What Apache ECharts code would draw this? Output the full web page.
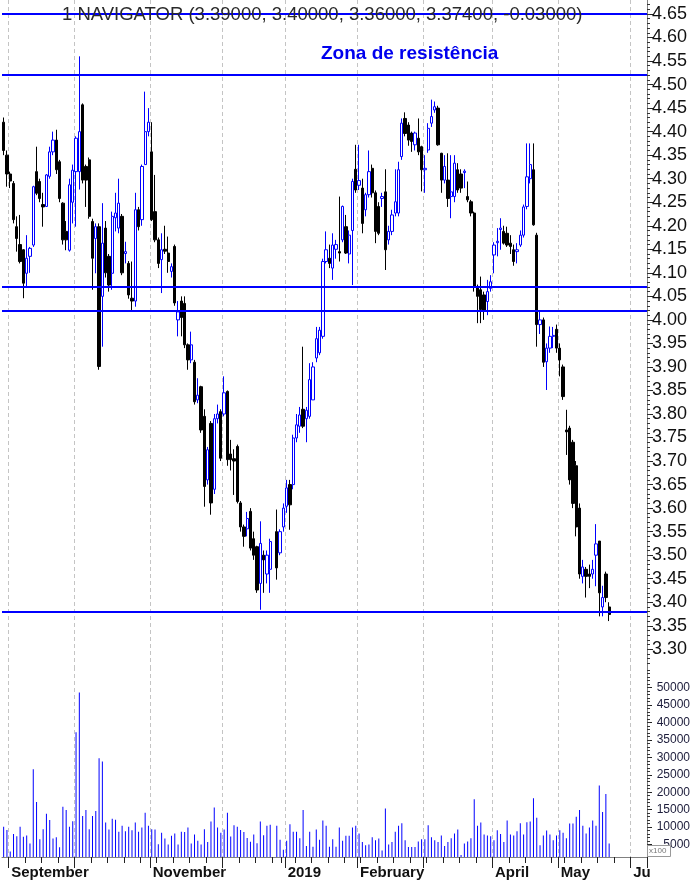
<!DOCTYPE html>
<html><head><meta charset="utf-8">
<script src="https://cdn.jsdelivr.net/npm/echarts@6/dist/echarts.min.js"></script>
<style>html,body{margin:0;padding:0;background:#fff}#c{width:694px;height:880px}</style>
</head><body><div id="c"></div>
<script>
// ---- DATA ----
const openP = [4.42,4.35,4.31,4.29,4.198,4.16,4.149,4.099,4.135,4.159,4.315,4.294,4.245,4.241,4.305,4.357,4.382,4.336,4.248,4.188,
4.148,4.25,4.315,4.315,4.457,4.326,4.34,4.209,4.173,4.198,4.05,4.195,4.135,4.099,4.217,4.195,4.22,4.141,4.12,4.046,
4.04,4.234,4.213,4.33,4.40,4.357,4.23,4.17,4.128,4.15,4.142,4.103,4.156,4.0,4.04,4.035,3.947,3.915,3.91,3.83,
3.858,3.795,3.66,3.78,3.64,3.79,3.805,3.80,3.848,3.715,3.705,3.731,3.611,3.56,3.556,3.593,3.535,3.518,3.44,3.50,
3.46,3.47,null,3.55,3.505,3.56,3.604,3.65,3.65,3.749,3.774,3.81,3.79,3.795,3.83,3.919,3.93,3.965,4.124,4.131,
4.11,4.15,4.145,4.17,4.198,4.14,4.19,4.32,4.286,4.28,4.234,4.266,4.322,4.27,4.241,4.258,4.272,4.17,4.188,4.227,
4.227,4.347,4.428,4.414,4.397,4.372,4.386,4.368,4.319,4.361,4.418,4.446,4.45,4.354,4.297,4.297,4.262,4.262,4.319,4.31,
4.313,4.262,4.251,4.227,4.071,4.064,4.053,4.039,4.067,4.138,4.164,4.192,4.188,4.184,4.163,4.149,4.145,4.159,4.18,4.241,
4.30,4.319,4.18,3.99,4.0,3.911,3.94,3.965,3.98,3.94,3.90,3.766,3.77,3.74,3.69,3.60,3.455,3.47,3.46,3.46,
3.50,3.53,3.39,3.46,3.39];
const highP = [4.43,4.36,4.315,4.295,4.22,4.223,4.15,4.18,4.155,4.285,4.368,4.30,4.27,4.31,4.368,4.40,4.404,4.34,4.25,4.21,
4.30,4.33,4.39,4.56,4.46,4.33,4.345,4.215,4.205,4.205,4.248,4.21,4.14,4.23,4.27,4.30,4.225,4.166,4.125,4.124,
4.27,4.24,4.33,4.485,4.45,4.42,4.308,4.175,4.184,4.20,4.177,4.12,4.16,4.04,4.05,4.05,3.95,3.975,3.915,3.876,
3.86,3.81,3.73,3.785,3.80,3.82,3.81,3.88,3.85,3.745,3.725,3.735,3.615,3.565,3.592,3.60,3.55,3.52,3.572,3.51,
3.51,3.535,null,3.597,3.555,3.61,3.66,3.66,3.756,3.80,3.815,3.943,3.815,3.908,3.91,3.985,3.985,4.13,4.188,4.16,
4.184,4.17,4.262,4.243,4.223,4.19,4.30,4.372,4.372,4.30,4.27,4.36,4.33,4.275,4.25,4.27,4.32,4.20,4.234,4.32,
4.336,4.428,4.441,4.42,4.40,4.40,4.428,4.37,4.35,4.418,4.468,4.464,4.455,4.355,4.35,4.354,4.35,4.35,4.333,4.32,
4.32,4.294,4.255,4.23,4.075,4.092,4.06,4.085,4.095,4.165,4.195,4.216,4.20,4.198,4.18,4.16,4.163,4.19,4.245,4.375,
4.375,4.375,4.185,4.02,4.005,3.95,3.986,3.985,3.99,3.95,3.905,3.809,3.775,3.745,3.70,3.61,3.49,3.475,3.48,3.49,
3.566,3.53,3.435,3.465,3.40];
const lowP = [4.35,4.283,4.28,4.205,4.145,4.12,4.046,4.071,4.10,4.155,4.265,4.25,4.198,4.24,4.30,4.35,4.31,4.25,4.16,4.148,
4.145,4.205,4.198,4.277,4.29,4.24,4.215,4.064,4.099,3.894,3.943,4.09,4.06,4.064,4.188,4.184,4.095,4.12,4.045,4.02,
4.028,4.19,4.20,4.33,4.39,4.21,4.165,4.11,4.057,4.14,4.10,4.09,4.03,3.965,3.965,3.94,3.894,3.908,3.82,3.823,
3.76,3.603,3.65,3.586,3.63,3.78,3.70,3.795,3.69,3.68,3.628,3.61,3.55,3.518,3.54,3.51,3.49,3.42,3.384,3.42,
3.44,3.42,null,3.448,3.50,3.55,3.59,3.554,3.64,3.74,3.76,3.77,3.74,3.79,3.83,3.91,3.925,3.96,4.12,4.11,
4.085,4.13,4.124,4.165,4.14,4.12,4.074,4.27,4.276,4.184,4.22,4.26,4.26,4.163,4.18,4.24,4.106,4.16,4.18,4.22,
4.22,4.34,4.39,4.37,4.357,4.36,4.35,4.273,4.27,4.355,4.41,4.44,4.37,4.27,4.29,4.24,4.216,4.25,4.27,4.27,
4.28,4.25,4.22,4.06,3.993,3.993,4.0,4.01,4.06,4.099,4.135,4.149,4.16,4.155,4.14,4.115,4.12,4.155,4.175,4.235,
4.29,4.20,3.943,3.97,3.90,3.851,3.93,3.94,3.93,3.88,3.83,3.713,3.65,3.60,3.54,3.45,3.44,3.41,3.43,3.45,
3.434,3.37,3.37,3.40,3.36];
const closeP = [4.36,4.31,4.295,4.213,4.173,4.124,4.078,4.131,4.152,4.283,4.269,4.258,4.24,4.308,4.357,4.382,4.319,4.258,4.17,4.17,
4.287,4.318,4.386,4.40,4.297,4.297,4.22,4.131,4.198,3.901,4.163,4.10,4.074,4.22,4.227,4.248,4.10,4.145,4.053,4.04,
4.234,4.198,4.326,4.40,4.42,4.213,4.17,4.12,4.149,4.146,4.124,4.113,4.036,4.017,4.005,3.947,3.915,3.947,3.826,3.84,
3.766,3.646,3.724,3.611,3.79,3.80,3.706,3.845,3.703,3.703,3.70,3.614,3.56,3.54,3.578,3.515,3.50,3.426,3.525,3.49,
3.50,3.529,null,3.473,3.55,3.60,3.643,3.607,3.749,3.777,3.798,3.774,3.808,3.873,3.90,3.96,3.978,4.124,4.149,4.12,
4.159,4.16,4.142,4.241,4.142,4.18,4.294,4.276,4.296,4.205,4.266,4.315,4.27,4.188,4.184,4.262,4.149,4.188,4.223,4.251,
4.319,4.418,4.396,4.382,4.379,4.397,4.357,4.319,4.322,4.407,4.432,4.453,4.372,4.297,4.326,4.258,4.272,4.333,4.276,4.28,
4.316,4.255,4.227,4.071,4.05,4.022,4.02,4.06,4.081,4.159,4.167,4.195,4.163,4.159,4.156,4.124,4.149,4.18,4.24,4.304,
4.33,4.202,3.99,4.0,3.91,3.94,3.965,3.967,3.94,3.915,3.837,3.762,3.66,3.61,3.56,3.46,3.475,3.455,3.455,3.47,
3.524,3.42,3.41,3.41,3.374];
const volume = [10100,9200,3000,8000,7400,10100,7200,7600,5300,26600,17200,6500,9400,13800,12000,6700,7100,4200,15800,14900,
10100,11700,37200,48600,13200,14900,9400,13200,14600,29700,28800,11300,9300,12400,12100,8700,10400,8800,10100,9100,
11300,8700,9900,14100,10400,9400,9300,5100,8400,6700,5000,7500,8200,5000,8700,8600,9900,5300,7900,6100,
5000,9400,5700,11600,15600,9900,8400,9300,14100,7300,10500,10100,9200,8600,6900,5800,7900,5400,11600,7700,
10400,10700,null,10400,6400,3500,6100,10800,8700,8700,6800,14900,4600,8700,4400,9300,6400,11900,10400,4400,
6500,4400,9900,6100,7500,7500,9900,10400,8200,5700,4800,5000,7100,6200,6700,3300,15300,5000,5700,8700,
10400,11100,6200,4300,4300,4300,5900,6500,6500,10500,7100,6200,5700,7600,4600,5700,6800,8200,9300,2000,
5300,5900,6800,18000,10400,11300,7900,7600,7400,6200,9100,8000,5700,11900,7900,7600,8800,11100,7900,11400,
11600,18300,12700,4800,7600,9000,7900,6200,7600,9100,8400,6800,11000,11000,13000,14900,10400,8200,9900,11900,
10400,21900,14300,19500,5300];
const resistanceLevels = [4.65, 4.52, 4.073, 4.017, 3.385];
const priceTickLabels = [3.30,3.35,3.40,3.45,3.50,3.55,3.60,3.65,3.70,3.75,3.80,3.85,3.90,3.95,4.00,
4.05,4.10,4.15,4.20,4.25,4.30,4.35,4.40,4.45,4.50,4.55,4.60,4.65];
const volumeTickLabels = [5000,10000,15000,20000,25000,30000,35000,40000,45000,50000];
const monthLabels = {'2018-09-03':'September','2018-11-01':'November','2019-01-02':'2019',
  '2019-02-01':'February','2019-04-01':'April','2019-05-02':'May','2019-06-03':'Ju'};
const holidays = ['2018-12-25','2018-12-26','2019-01-01','2019-04-19','2019-04-22','2019-05-01'];
const titleText = '1 NAVIGATOR (3.39000, 3.40000, 3.36000, 3.37400, -0.03000)';
const zoneText = 'Zona de resistência';

// ---- trading-day categories ----
const dates = [];
(function(){
  const hol = new Set(holidays);
  const d = new Date(Date.UTC(2018,7,30));
  while (dates.length < 196) {
    const wd = d.getUTCDay();
    const s = d.toISOString().slice(0,10);
    if (wd !== 0 && wd !== 6 && !hol.has(s)) dates.push(s);
    d.setUTCDate(d.getUTCDate()+1);
  }
})();
const isMonthStart = i => i > 0 && dates[i].slice(0,7) !== dates[i-1].slice(0,7);
const isMonday = i => new Date(dates[i] + 'T00:00:00Z').getUTCDay() === 1;

const candles = openP.map((o,i) => o == null ? '-' : [o, closeP[i], lowP[i], highP[i]]);
const vols = volume.map(v => v == null ? '-' : v);

const minorPrice = []; for (let k = 327; k <= 467; k++) minorPrice.push(k/100);
const minorVol = []; for (let k = 2; k <= 55; k++) minorVol.push(k*1000);

const PMAX = 4.6797, PMIN = 3.2624;
const VMIN = 1433, VMAX = 55874;
const FONT = '"Liberation Sans", Arial, sans-serif';
const dashed = {show:true, lineStyle:{color:'#c4c4c4', width:1, type:[4,3]}};

const chart = echarts.init(document.getElementById('c'), null, {renderer:'canvas'});
chart.setOption({
  animation:false,
  backgroundColor:'#ffffff',
  textStyle:{fontFamily:FONT},
  grid:[
    {left:2, right:47, top:0, height:667},
    {left:2, right:47, top:667, height:190}
  ],
  xAxis:[
    {type:'category', gridIndex:0, data:dates, boundaryGap:true,
     axisLine:{show:false}, axisTick:{show:false}, axisLabel:{show:false},
     splitLine:Object.assign({interval:(i)=>isMonthStart(i)}, dashed)},
    {type:'category', gridIndex:1, data:dates, boundaryGap:true,
     axisLine:{show:true, lineStyle:{color:'#808080'}},
     axisTick:{show:true, interval:(i)=>isMonday(i) && !isMonthStart(i), length:6, lineStyle:{color:'#222'}},
     axisLabel:{show:false},
     splitLine:Object.assign({interval:(i)=>isMonthStart(i)}, dashed)},
    {type:'category', gridIndex:1, data:dates, boundaryGap:true, position:'bottom',
     axisLine:{show:false},
     axisTick:{show:true, interval:(i)=>isMonthStart(i), length:11, lineStyle:{color:'#222'}},
     axisLabel:{show:true, interval:(i)=>monthLabels[dates[i]] !== undefined,
       formatter:(v)=>monthLabels[v] || '', align:'left', padding:[0,0,0,1],
       margin:8, fontSize:15, fontWeight:'bold', color:'#111', fontFamily:FONT},
     splitLine:{show:false}}
  ],
  yAxis:[
    {type:'value', gridIndex:0, position:'right', min:PMIN, max:PMAX,
     axisLine:{show:true, lineStyle:{color:'#808080'}},
     axisTick:{show:true, customValues:priceTickLabels, length:6, lineStyle:{color:'#222'}},
     axisLabel:{show:true, customValues:priceTickLabels, formatter:(v)=>v.toFixed(2),
       margin:5, fontSize:18, color:'#111', fontFamily:FONT},
     splitLine:{show:false}},
    {type:'value', gridIndex:0, position:'right', min:PMIN, max:PMAX,
     axisLine:{show:false},
     axisTick:{show:true, customValues:minorPrice, length:3, lineStyle:{color:'#333'}},
     axisLabel:{show:false}, splitLine:{show:false}},
    {type:'value', gridIndex:1, position:'right', min:VMIN, max:VMAX,
     axisLine:{show:true, lineStyle:{color:'#808080'}},
     axisTick:{show:true, customValues:volumeTickLabels, length:5, lineStyle:{color:'#222'}},
     axisLabel:{show:true, customValues:volumeTickLabels, align:'right',
       formatter:(v)=>String(Math.round(v)),
       margin:43, fontSize:12, color:'#1c1c3a', fontFamily:FONT},
     splitLine:{show:false}},
    {type:'value', gridIndex:1, position:'right', min:VMIN, max:VMAX,
     axisLine:{show:false},
     axisTick:{show:true, customValues:minorVol, length:3, lineStyle:{color:'#333'}},
     axisLabel:{show:false}, splitLine:{show:false}}
  ],
  series:[
    {type:'candlestick', xAxisIndex:0, yAxisIndex:0, data:candles, barWidth:2.8,
     itemStyle:{color:'#ffffff', color0:'#000000', borderColor:'#0000ff', borderColor0:'#000000', borderWidth:1},
     emphasis:{disabled:true},
     markLine:{silent:true, symbol:['none','none'], label:{show:false},
       lineStyle:{color:'#0000ff', width:2, type:'solid'},
       data:resistanceLevels.map(v=>({yAxis:v}))}},
    {type:'bar', xAxisIndex:1, yAxisIndex:2, data:vols, barWidth:1,
     itemStyle:{color:'#0000ff'}, emphasis:{disabled:true}}
  ],
  graphic:[
    {type:'text', left:62, top:5, z:100, style:{text:titleText,
      font:'18.5px ' + FONT, fill:'#2a2a2a'}},
    {type:'text', left:321, top:44, z:100, style:{text:zoneText,
      font:'bold 19px ' + FONT, fill:'#0000ee'}},
    {type:'rect', left:647, top:845, z:100, shape:{width:23, height:11},
      style:{fill:'#ffffff', stroke:'#999999', lineWidth:1}},
    {type:'text', left:649, top:847, z:101, style:{text:'x100', font:'8px ' + FONT, fill:'#777777'}}
  ]
});
</script>
</body></html>
